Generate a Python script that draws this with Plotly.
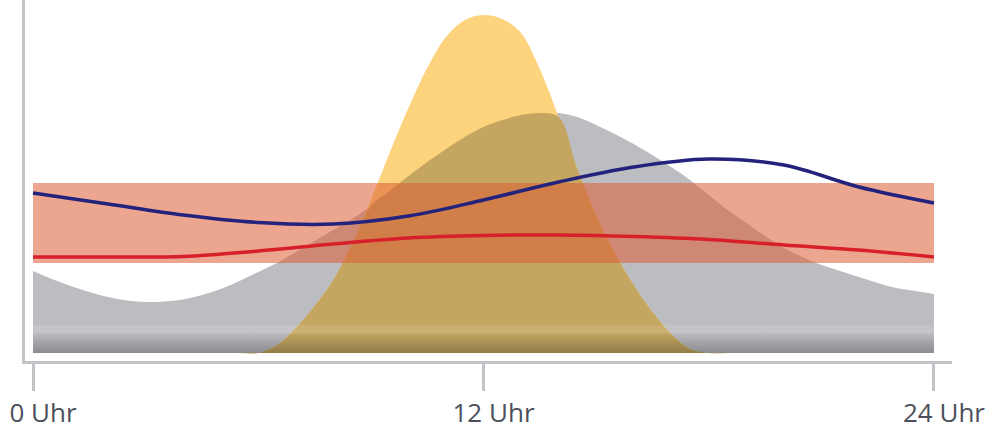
import numpy as np
import plotly.graph_objects as go

# hours grid (0..24 in 0.5h steps)
hours = [i * 0.5 for i in range(49)]

# grey area (height above baseline)
grey = [82, 74, 67, 61, 56, 52.5, 51, 51.5, 53.5, 58, 64, 72, 81, 90, 101, 112,
        123, 134, 147, 162, 177, 191, 204, 216, 226, 233, 238, 240, 240, 236, 228,
        219, 209, 198, 186, 173, 158, 143, 130, 117, 105, 96, 88, 82, 76, 70, 65,
        62, 59]

# yellow bell (height above baseline)
yellow = [0, 0, 0, 0, 0, 0, 0, 0, 0, 0, 0, 0, 0, 8, 25, 47, 73, 109, 153, 200,
          245, 285, 316, 333, 338, 334, 320, 284, 236, 184, 138, 100, 68, 41, 19,
          4, 0, 0, 0, 0, 0, 0, 0, 0, 0, 0, 0, 0, 0]

# lines (2h steps)
line_hours = [0, 2, 4, 6, 8, 10, 12, 14, 16, 18, 20, 22, 24]
red_line = [96, 96, 96.5, 102, 109, 115, 117.5, 118, 116.5, 113.5, 108, 103, 96]
blue_line = [160, 149, 138, 130.5, 129, 137, 153, 171, 186, 194, 188, 166, 150]

# bands
band_low, band_high = 90, 170
base_band_top = 28

tick_vals = [0, 12, 24]
tick_text = ["0 Uhr", "12 Uhr", "24 Uhr"]

AXIS = "#c2c3c7"
overlap = np.minimum(np.array(grey), np.array(yellow)).tolist()

fig = go.Figure()
fig.add_trace(go.Scatter(x=hours, y=grey, mode="lines", line=dict(width=0, shape="spline", smoothing=1.0),
                         fill="tozeroy", fillcolor="#bcbdc1", hoverinfo="skip"))
fig.add_trace(go.Scatter(x=hours, y=yellow, mode="lines", line=dict(width=0, shape="spline", smoothing=1.0),
                         fill="tozeroy", fillcolor="#fdd37d", hoverinfo="skip"))
fig.add_trace(go.Scatter(x=hours, y=overlap, mode="lines", line=dict(width=0, shape="spline", smoothing=1.0),
                         fill="tozeroy", fillcolor="#c4a660", hoverinfo="skip"))
# dark gradient base band
fig.add_trace(go.Scatter(x=[0, 24, 24, 0, 0], y=[0, 0, base_band_top, base_band_top, 0], mode="lines",
                         line=dict(width=0), fill="toself",
                         fillgradient=dict(type="vertical",
                                           colorscale=[[0, "rgba(0,0,0,0.26)"],
                                                       [0.35, "rgba(0,0,0,0.14)"],
                                                       [0.62, "rgba(0,0,0,0.03)"],
                                                       [0.72, "rgba(255,255,255,0.12)"],
                                                       [1, "rgba(255,255,255,0.10)"]]),
                         hoverinfo="skip"))
# red band
fig.add_trace(go.Scatter(x=[0, 24, 24, 0, 0], y=[band_low, band_low, band_high, band_high, band_low],
                         mode="lines", line=dict(width=0), fill="toself",
                         fillcolor="rgba(220,93,53,0.55)", hoverinfo="skip"))
fig.add_trace(go.Scatter(x=line_hours, y=red_line, mode="lines",
                         line=dict(color="#d7202a", width=3.5, shape="spline"), hoverinfo="skip"))
fig.add_trace(go.Scatter(x=line_hours, y=blue_line, mode="lines",
                         line=dict(color="#23227d", width=3.5, shape="spline"), hoverinfo="skip"))

fig.update_layout(
    width=992, height=430, showlegend=False,
    margin=dict(l=25, r=40, t=0, b=69),
    paper_bgcolor="white", plot_bgcolor="white",
    font=dict(family="Open Sans", size=26, color="#4b505c"),
)
fig.update_xaxes(range=[-0.213, 24.48], tickmode="array", tickvals=tick_vals, ticktext=tick_text,
                 ticks="outside", ticklen=27, tickwidth=3, tickcolor=AXIS,
                 showline=True, linewidth=3, linecolor=AXIS, showgrid=False, zeroline=False,
                 automargin=False, ticklabelshift=10,
                 tickfont=dict(family="Open Sans", size=26, color="#4b505c"))
fig.update_yaxes(range=[-8, 353], showline=True, linewidth=3, linecolor=AXIS, showgrid=False,
                 zeroline=False, showticklabels=False, ticks="", automargin=False)

fig.write_html("out.html", config={"displayModeBar": False},
               post_script="document.body.style.margin='0';document.body.style.overflow='hidden';")
